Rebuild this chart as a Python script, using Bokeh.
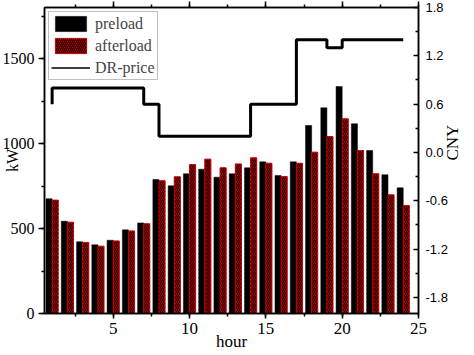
import math
from bokeh.plotting import figure
from bokeh.models import (Range1d, LinearAxis, SingleIntervalTicker, FixedTicker,
                          NumeralTickFormatter, Legend, LegendItem, ColumnDataSource)
from bokeh.transform import dodge
from bokeh.embed import file_html
from bokeh.resources import INLINE

# ---- data ----
hours = list(range(1, 25))
preload = [675, 543, 422, 404, 431, 492, 533, 788, 751, 822, 849, 802,
           822, 857, 892, 812, 892, 1106, 1210, 1335, 1116, 959, 816, 739]
afterload = [667, 537, 418, 396, 427, 486, 528, 781, 804, 876, 908, 857,
             880, 916, 884, 806, 884, 949, 1041, 1145, 959, 822, 698, 635]
dr_price = [0.6, 0.8, 0.8, 0.8, 0.8, 0.8, 0.8, 0.6, 0.2, 0.2, 0.2, 0.2,
            0.2, 0.2, 0.6, 0.6, 0.6, 1.4, 1.4, 1.3, 1.4, 1.4, 1.4, 1.4]
price_ticks = [-1.8, -1.2, -0.6, 0.0, 0.6, 1.2, 1.8]
price_minor_ticks = [-1.5, -0.9, -0.3, 0.3, 0.9, 1.5]

SERIF = "Liberation Serif"
SANS = "Liberation Sans"

source = ColumnDataSource(dict(hour=hours, preload=preload, afterload=afterload, price=dr_price))
legend_proxy = ColumnDataSource(dict(x=[float("nan")], y=[float("nan")]))

p = figure(width=474, height=355, output_backend="svg", toolbar_location=None,
           x_range=Range1d(0.5, 25), y_range=Range1d(0, 1800),
           min_border_left=43, min_border_right=51, min_border_top=7, min_border_bottom=42)
p.extra_y_ranges = {"price": Range1d(-2.0, 1.8)}
p.xgrid.visible = False
p.ygrid.visible = False
p.outline_line_color = "black"
p.outline_line_width = 1.5
p.background_fill_color = "white"
p.border_fill_color = "white"

r_pre = p.vbar(x=dodge("hour", -0.2), top="preload", width=0.4, source=source,
               fill_color="black", line_color="black", line_width=0.5)
r_after = p.vbar(x=dodge("hour", 0.2), top="afterload", width=0.4, source=source,
                 fill_color="#140000", hatch_pattern="left_diagonal_line",
                 hatch_color="#a80000", hatch_scale=4, hatch_weight=1,
                 line_color="#d00000", line_width=1)
r_price = p.step(x="hour", y="price", source=source, mode="before",
                 line_color="black", line_width=3, y_range_name="price")
r_leg = p.line(x="x", y="y", source=legend_proxy, line_color="black", line_width=1.5,
               y_range_name="price")


def style(ax, tick_in, tick_out, minor_in, minor_out):
    ax.axis_line_width = 1.5
    ax.major_tick_line_width = 1.5
    ax.minor_tick_line_width = 1.5
    ax.major_tick_in = tick_in
    ax.major_tick_out = tick_out
    ax.minor_tick_in = minor_in
    ax.minor_tick_out = minor_out
    ax.axis_label_text_font_style = "normal"
    ax.axis_label_text_font = SERIF
    ax.axis_label_text_font_size = "17px"
    ax.axis_label_text_color = "black"
    ax.major_label_text_color = "black"


# bottom
xa = p.xaxis[0]
xa.ticker = SingleIntervalTicker(interval=5, num_minor_ticks=2)
style(xa, 0, 5, 0, 3)
xa.major_label_text_font = SERIF
xa.major_label_text_font_size = "17px"
xa.major_label_standoff = 4
xa.axis_label = "hour"
xa.axis_label_text_line_height = 0.8
xa.axis_label_standoff = -5

# left
ya = p.yaxis[0]
ya.ticker = SingleIntervalTicker(interval=500, num_minor_ticks=2)
style(ya, 0, 6, 0, 3)
ya.major_label_text_font = SERIF
ya.major_label_text_font_size = "16px"
ya.major_label_standoff = 4
ya.axis_label = "kW"
ya.axis_label_text_font_size = "16px"
ya.axis_label_text_line_height = 0.8
ya.axis_label_standoff = -21

# right
ra = LinearAxis(y_range_name="price",
                ticker=FixedTicker(ticks=price_ticks, minor_ticks=price_minor_ticks),
                formatter=NumeralTickFormatter(format="0.0"), axis_label="CNY")
style(ra, 5, 0, 3, 0)
ra.major_label_text_font = SANS
ra.major_label_text_font_size = "13px"
ra.major_label_standoff = 7
ra.axis_label_standoff = 2
ra.axis_label_text_line_height = 0.8
ra.axis_label_orientation = math.pi / 2
p.add_layout(ra, "right")

# top (ticks only)
ta = LinearAxis(ticker=SingleIntervalTicker(interval=5, num_minor_ticks=2))
style(ta, 0, 6, 0, 3)
ta.major_label_text_font_size = "0px"
ta.major_label_standoff = 0
ta.major_label_text_alpha = 0
p.add_layout(ta, "above")

legend = Legend(items=[LegendItem(label="preload", renderers=[r_pre]),
                       LegendItem(label="afterload", renderers=[r_after]),
                       LegendItem(label="DR-price", renderers=[r_leg])],
                location="top_left", glyph_width=39, glyph_height=19, label_height=19,
                label_standoff=5, spacing=3, padding=2, margin=4,
                border_line_color="#808080", border_line_width=1,
                label_text_font=SERIF, label_text_font_size="16px",
                background_fill_alpha=1)
p.add_layout(legend)

open("out.html", "w").write(file_html(p, INLINE))
